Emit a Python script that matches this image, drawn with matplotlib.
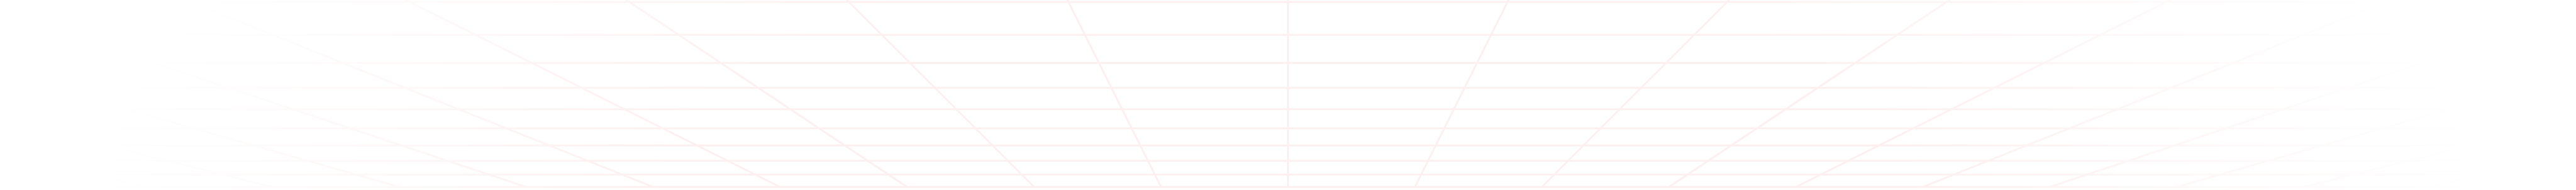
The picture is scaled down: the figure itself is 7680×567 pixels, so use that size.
import numpy as np
import matplotlib
matplotlib.use("Agg")
import matplotlib.pyplot as plt
from matplotlib.collections import LineCollection

# canvas size in pixels
W, H = 7680, 567

# grid in world units (cells): column indices and row indices
grid_cols = list(range(-12, 13))
grid_rows = list(range(0, 10))

# camera / projection settings
center_x = 3840       # vanishing column
horizon_y = 1315      # vanishing point sits below the frame
focal = 8078          # px
cam_height = 2.0      # cells
near_depth = 12.34    # depth of first row, cells
top_depth = 11.0      # vertical lines start above the frame

line_color = "#fdf0f0"
line_px = 5.5

# fade mask (ellipse in screen space)
mask_cx, mask_cy = 3840, 520
mask_rx, mask_ry = 3500, 1230
mask_full = 0.5


def project(X, D):
    x = center_x + X * focal / D
    y = horizon_y - focal * cam_height / D
    return x, y


fig = plt.figure(figsize=(W / 100, H / 100), dpi=100)
ax = fig.add_axes([0, 0, 1, 1])
ax.set_xlim(0, W)
ax.set_ylim(H, 0)
ax.axis("off")

far_depth = near_depth + grid_rows[-1]
segs = []
# horizontal rows
for r in grid_rows:
    D = near_depth + r
    x0, y0 = project(grid_cols[0] * 3, D)
    x1, y1 = project(grid_cols[-1] * 3, D)
    segs.append([(x0, y0), (x1, y1)])
# converging columns
for c in grid_cols:
    x0, y0 = project(c, top_depth)
    x1, y1 = project(c, far_depth)
    segs.append([(x0, y0), (x1, y1)])

lw = line_px * 72 / 100
ax.add_collection(LineCollection(segs, colors=line_color, linewidths=lw,
                                 capstyle="butt"))

# white overlay that fades the grid towards the edges
gx = np.linspace(0, W, 1920)
gy = np.linspace(0, H, 284)
xx, yy = np.meshgrid(gx, gy)
d = np.sqrt(((xx - mask_cx) / mask_rx) ** 2 + ((yy - mask_cy) / mask_ry) ** 2)
m = np.clip((1 - d) / (1 - mask_full), 0, 1)
over = np.ones((len(gy), len(gx), 4))
over[..., 3] = 1 - m
ax.imshow(over, extent=[0, W, H, 0], interpolation="bilinear", zorder=5,
          aspect="auto")
ax.set_xlim(0, W)
ax.set_ylim(H, 0)

fig.savefig("out.png", dpi=100, facecolor="white")
